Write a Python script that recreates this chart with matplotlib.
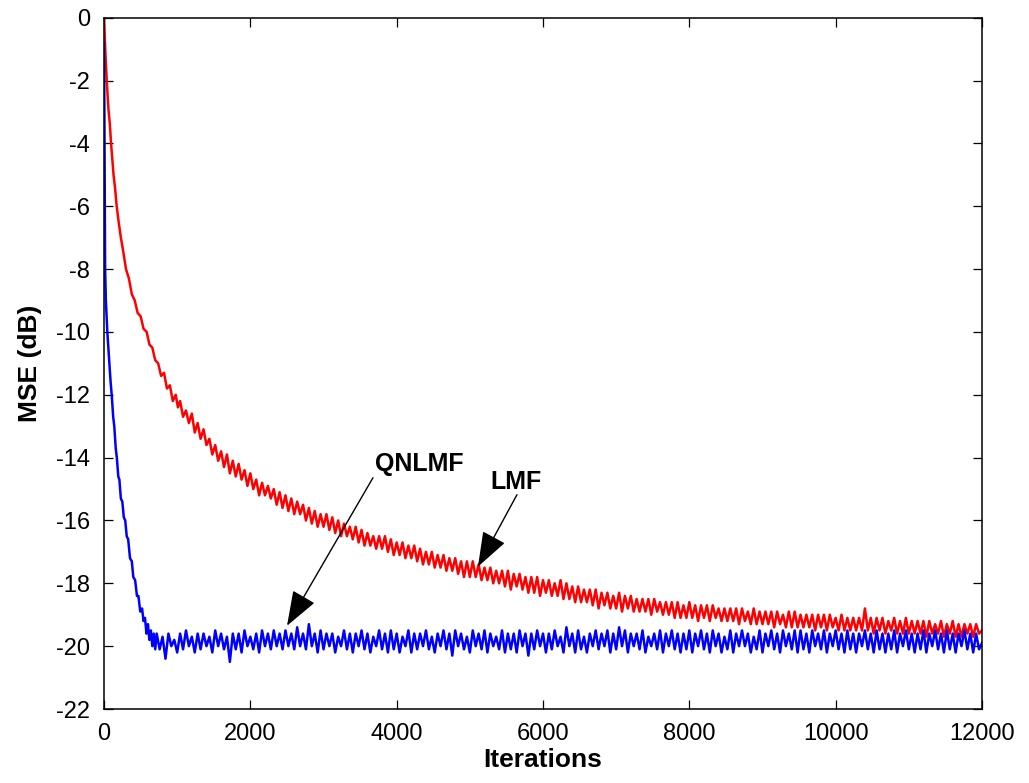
import matplotlib
matplotlib.use("Agg")
from matplotlib import pyplot as plt

# LMF curve (red): dense points during the fast descent, then every 40 iterations
lmf_iter_early = [0, 10, 20, 37, 60, 80, 96, 130, 150, 173, 200, 230, 260, 300,
                  340, 380, 420, 460, 500, 540, 583, 620, 660, 700, 740, 780,
                  820, 860, 900, 940, 980, 1010]
lmf_mse_early = [0.0, -0.6, -1.2, -2.0, -2.9, -3.4, -4.0, -5.0, -5.4, -6.0, -6.5,
                 -7.0, -7.4, -8.0, -8.3, -8.8, -9.0, -9.4, -9.5, -9.9, -10.0,
                 -10.4, -10.5, -10.9, -11.0, -11.4, -11.3, -11.8, -11.7, -12.2,
                 -12.0, -12.4]
lmf_iter_tail = list(range(1040, 12001, 40))
lmf_mse_tail = [
  -12.2, -12.7, -12.5, -12.9, -12.6, -13.2, -12.9, -13.4, -13.1, -13.6,
  -13.4, -13.9, -13.6, -14.1, -13.8, -14.3, -13.9, -14.5, -14.1, -14.6,
  -14.2, -14.7, -14.4, -14.9, -14.5, -15.0, -14.7, -15.2, -14.8, -15.2,
  -14.9, -15.3, -15.0, -15.5, -15.1, -15.6, -15.2, -15.7, -15.3, -15.8,
  -15.4, -15.8, -15.5, -16.0, -15.6, -16.1, -15.7, -16.2, -15.8, -16.2,
  -15.8, -16.3, -15.9, -16.4, -16.0, -16.5, -16.1, -16.5, -16.2, -16.6,
  -16.2, -16.7, -16.3, -16.8, -16.4, -16.8, -16.5, -16.9, -16.5, -16.9,
  -16.5, -17.0, -16.6, -17.1, -16.7, -17.1, -16.7, -17.2, -16.8, -17.2,
  -16.8, -17.3, -16.9, -17.4, -17.0, -17.4, -17.0, -17.5, -17.1, -17.5,
  -17.1, -17.6, -17.2, -17.6, -17.2, -17.7, -17.3, -17.8, -17.3, -17.8,
  -17.3, -17.8, -17.4, -17.9, -17.5, -17.9, -17.5, -18.0, -17.6, -18.0,
  -17.6, -18.1, -17.6, -18.2, -17.7, -18.1, -17.7, -18.2, -17.8, -18.3,
  -17.8, -18.3, -17.8, -18.4, -17.9, -18.3, -17.9, -18.4, -18.0, -18.4,
  -17.9, -18.5, -18.0, -18.5, -18.1, -18.6, -18.1, -18.6, -18.2, -18.6,
  -18.2, -18.7, -18.2, -18.8, -18.3, -18.7, -18.3, -18.8, -18.4, -18.8,
  -18.3, -18.9, -18.4, -18.8, -18.4, -18.9, -18.5, -18.9, -18.5, -18.9,
  -18.5, -19.0, -18.5, -18.9, -18.6, -19.0, -18.6, -19.0, -18.6, -19.1,
  -18.6, -19.1, -18.7, -19.1, -18.6, -19.1, -18.7, -19.2, -18.7, -19.1,
  -18.7, -19.2, -18.7, -19.1, -18.8, -19.2, -18.8, -19.2, -18.8, -19.2,
  -18.8, -19.3, -18.8, -19.2, -18.9, -19.3, -18.8, -19.3, -18.9, -19.3,
  -18.9, -19.3, -18.9, -19.4, -18.9, -19.3, -19.0, -19.4, -18.9, -19.4,
  -18.9, -19.4, -19.0, -19.4, -19.0, -19.4, -19.0, -19.5, -19.0, -19.4,
  -19.0, -19.5, -19.0, -19.4, -19.1, -19.5, -19.0, -19.5, -19.1, -19.5,
  -19.1, -19.5, -19.1, -19.5, -18.8, -19.5, -19.1, -19.6, -19.1, -19.5,
  -19.1, -19.6, -19.2, -19.5, -19.1, -19.6, -19.2, -19.6, -19.1, -19.6,
  -19.2, -19.6, -19.2, -19.6, -19.2, -19.7, -19.2, -19.6, -19.3, -19.6,
  -19.2, -19.7, -19.3, -19.6, -19.2, -19.7, -19.3, -19.7, -19.3, -19.6,
  -19.3, -19.7, -19.3, -19.6, -19.5]

# QNLMF curve (blue)
qnlmf_iter_early = [0, 5, 10, 15, 25, 45, 70, 90, 105, 125, 140, 160, 175, 195,
                    210, 230, 250, 270, 290, 310, 330, 355, 380, 400, 425, 450,
                    470, 495, 520, 540, 560, 580, 600, 620, 640, 660, 680, 700]
qnlmf_mse_early = [-0.8, -3.0, -5.8, -8.0, -9.0, -10.0, -10.9, -11.6, -12.0,
                   -12.7, -13.0, -13.7, -14.0, -14.6, -14.7, -15.3, -15.4,
                   -15.9, -16.0, -16.5, -16.6, -17.2, -17.3, -17.8, -17.9,
                   -18.4, -18.4, -18.9, -18.8, -19.2, -19.1, -19.6, -19.3,
                   -19.8, -19.5, -20.0, -19.6, -20.1]
qnlmf_iter_tail = list(range(720, 12001, 40))
qnlmf_mse_tail = [
  -19.6, -20.1, -19.7, -20.4, -19.6, -20.0, -19.8, -20.2, -19.6, -20.1,
  -19.5, -20.0, -19.7, -20.2, -19.6, -20.1, -19.6, -20.0, -19.7, -20.2,
  -19.5, -20.0, -19.6, -20.1, -19.7, -20.5, -19.6, -20.1, -19.6, -20.2,
  -19.5, -20.0, -19.7, -20.1, -19.6, -20.2, -19.5, -20.0, -19.6, -20.1,
  -19.5, -20.0, -19.6, -20.1, -19.5, -20.0, -19.6, -20.1, -19.4, -20.0,
  -19.6, -20.1, -19.3, -20.0, -19.6, -20.2, -19.5, -20.1, -19.6, -20.0,
  -19.6, -20.2, -19.7, -20.0, -19.5, -20.1, -19.6, -20.2, -19.6, -20.0,
  -19.5, -20.1, -19.6, -20.2, -19.7, -20.0, -19.5, -20.1, -19.6, -20.2,
  -19.5, -20.1, -19.6, -20.2, -19.7, -20.0, -19.5, -20.2, -19.6, -20.1,
  -19.6, -20.0, -19.5, -20.1, -19.7, -20.2, -19.6, -20.0, -19.5, -20.1,
  -19.6, -20.3, -19.5, -20.0, -19.6, -20.1, -19.7, -20.2, -19.5, -20.0,
  -19.6, -20.1, -19.5, -20.2, -19.6, -20.0, -19.7, -20.1, -19.5, -20.2,
  -19.6, -20.1, -19.6, -20.2, -19.5, -20.0, -19.6, -20.3, -19.6, -20.1,
  -19.5, -20.0, -19.6, -20.2, -19.6, -20.1, -19.5, -20.0, -19.7, -20.2,
  -19.4, -20.0, -19.6, -20.2, -19.5, -20.1, -19.7, -20.2, -19.6, -20.0,
  -19.5, -20.1, -19.6, -20.0, -19.5, -20.2, -19.6, -20.1, -19.4, -20.0,
  -19.5, -20.2, -19.6, -20.0, -19.6, -20.1, -19.5, -20.2, -19.7, -20.0,
  -19.6, -20.1, -19.5, -20.2, -19.6, -20.0, -19.5, -20.1, -19.6, -20.2,
  -19.6, -20.1, -19.5, -20.2, -19.6, -20.0, -19.5, -20.1, -19.6, -20.2,
  -19.5, -20.0, -19.6, -20.2, -19.7, -20.1, -19.5, -20.2, -19.6, -20.0,
  -19.5, -20.0, -19.6, -20.2, -19.7, -20.1, -19.5, -20.2, -19.6, -20.0,
  -19.5, -20.1, -19.6, -20.2, -19.5, -20.0, -19.6, -20.1, -19.5, -20.2,
  -19.5, -20.1, -19.6, -20.2, -19.5, -20.0, -19.6, -20.1, -19.5, -20.2,
  -19.6, -20.0, -19.5, -20.1, -19.6, -20.2, -19.5, -20.1, -19.6, -20.2,
  -19.6, -20.0, -19.5, -20.1, -19.6, -20.2, -19.5, -20.1, -19.6, -20.2,
  -19.6, -20.1, -19.5, -20.2, -19.6, -20.0, -19.5, -20.1, -19.6, -20.2,
  -19.6, -20.1, -19.5, -20.2, -19.6, -20.0, -19.5, -20.1, -19.6, -20.2,
  -19.5, -20.1, -19.6, -20.2, -19.6, -20.0, -19.5, -20.1, -19.6, -20.2,
  -19.6, -20.1, -19.9]

x_ticks = [0, 2000, 4000, 6000, 8000, 10000, 12000]
y_ticks = [0, -2, -4, -6, -8, -10, -12, -14, -16, -18, -20, -22]


def main():
  plt.rcParams['font.family'] = ['Liberation Sans', 'DejaVu Sans']

  fig = plt.figure(figsize=(10.29, 7.83), dpi=100)
  ax = fig.add_axes([0.1011, 0.0945, 0.8532, 0.8829])

  lmf_x = lmf_iter_early + lmf_iter_tail
  lmf_y = lmf_mse_early + lmf_mse_tail
  qn_x = qnlmf_iter_early + qnlmf_iter_tail
  qn_y = qnlmf_mse_early + qnlmf_mse_tail

  ax.plot(lmf_x, lmf_y, color='#ff0000', linewidth=1.8)
  ax.plot(qn_x, qn_y, color='#0000ff', linewidth=1.8)

  ax.set_xlim(0, 12000)
  ax.set_ylim(-22, 0)
  ax.set_xticks(x_ticks)
  ax.set_yticks(y_ticks)
  ax.set_yticklabels([str(v) for v in y_ticks])

  ax.tick_params(direction='in', length=6.5, width=0.9, top=True, right=True,
                 labelsize=17, pad=10)
  for s in ax.spines.values():
    s.set_linewidth(1.1)

  ax.set_xlabel('Iterations', fontsize=19, fontweight='bold', labelpad=2)
  ax.set_ylabel('MSE (dB)', fontsize=19, fontweight='bold', labelpad=10)

  arrow = dict(arrowstyle='-|>,head_length=0.55,head_width=0.2', color='black',
               linewidth=1.0, mutation_scale=40, shrinkA=0, shrinkB=0)
  ax.annotate('', xy=(2501, -19.35), xytext=(3676, -14.64), arrowprops=arrow)
  ax.annotate('', xy=(5111, -17.47), xytext=(5644, -15.18), arrowprops=arrow)
  ax.text(3704, -14.2, 'QNLMF', fontsize=18, fontweight='bold',
          ha='left', va='center')
  ax.text(5275, -14.76, 'LMF', fontsize=18, fontweight='bold',
          ha='left', va='center')

  fig.savefig('out.png', dpi=100)


if __name__ == '__main__':
  main()
